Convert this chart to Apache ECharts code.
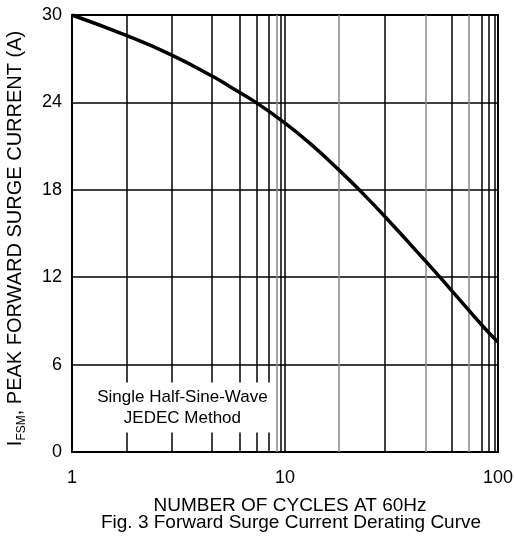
<!DOCTYPE html>
<html>
<head>
<meta charset="utf-8">
<script src="https://cdn.jsdelivr.net/npm/echarts@6/dist/echarts.min.js"></script>
<style>html,body{margin:0;padding:0;background:#fff}#c{width:514px;height:539px}</style>
</head>
<body>
<div id="c"></div>
<script>
// Curve: number of cycles vs peak forward surge current (A)
const cycles  = [1, 1.81, 2.94, 4.61, 5.52, 7.3, 9.82, 13.1, 18.1, 23.3, 29.5, 45.4, 59.6, 85.3, 100];
const current = [30, 28.58, 27.25, 25.76, 25.08, 24.0, 22.67, 21.19, 19.3, 17.72, 16.15, 13.15, 11.2, 8.6, 7.55];
// Vertical grid lines of the printed log paper
const gridBlack = [1.8, 2.95, 4.55, 6.1, 7.35, 8.35, 9.6, 10, 29.5, 60.8, 84.2, 90.8, 96.8];
const gridGray  = [9.15, 17.9, 45.9, 73.1];
const yTicks = [0, 6, 12, 18, 24, 30];
const xTicks = [1, 10, 100];
const noteLines = ['Single Half-Sine-Wave', 'JEDEC Method'];
const noteAt = [3.3, 3.05];

const FONT = '"Liberation Sans", Arial, sans-serif';
const chart = echarts.init(document.getElementById('c'));
chart.setOption({
  animation: false,
  backgroundColor: '#fff',
  textStyle: { fontFamily: FONT, color: '#000' },
  grid: { left: 72, right: 16, top: 15, bottom: 87, containLabel: false, outerBoundsMode: 'none',
    show: true, borderColor: '#000', borderWidth: 2, backgroundColor: 'transparent' },
  xAxis: {
    type: 'log', logBase: 10, min: 1, max: 100,
    axisLine: { show: false }, axisTick: { show: false },
    axisLabel: { fontSize: 18, color: '#000', fontFamily: FONT, margin: 17,
      formatter: v => (xTicks.indexOf(Math.round(v)) >= 0 ? String(Math.round(v)) : '') },
    splitLine: { show: false },
    name: 'NUMBER OF CYCLES AT 60Hz', nameLocation: 'middle', nameGap: 44,
    nameTextStyle: { fontSize: 19, color: '#000', fontFamily: FONT, padding: [0, 0, 0, 10] }
  },
  yAxis: {
    type: 'value', min: 0, max: 30, interval: 6,
    axisLine: { show: false }, axisTick: { show: false },
    axisLabel: { fontSize: 18, color: '#000', fontFamily: FONT, margin: 10 },
    splitLine: { show: true, lineStyle: { color: '#000', width: 1.5 } },
    name: '{i|I}{s|FSM}{n|, PEAK FORWARD SURGE CURRENT (A)}',
    nameLocation: 'middle', nameGap: 47, nameRotate: 90,
    nameTextStyle: {
      fontFamily: FONT, color: '#000', padding: [0, 10, 0, 0],
      rich: {
        i: { fontSize: 20, fontFamily: FONT, color: '#000', verticalAlign: 'bottom' },
        s: { fontSize: 12, fontFamily: FONT, color: '#000', verticalAlign: 'bottom', padding: [0, 0, -3, 0] },
        n: { fontSize: 20, fontFamily: FONT, color: '#000', verticalAlign: 'bottom' }
      }
    }
  },
  graphic: [{
    type: 'text', x: 291, y: 513,
    style: { text: 'Fig. 3 Forward Surge Current Derating Curve', font: '19px ' + FONT, fill: '#000', align: 'center' }
  }],
  series: [
    {
      type: 'line', data: [], silent: true,
      markLine: {
        silent: true, symbol: 'none', label: { show: false }, animation: false,
        lineStyle: { color: '#888', width: 1.5, type: 'solid' },
        data: gridGray.map(v => ({ xAxis: v }))
      }
    },
    {
      type: 'line', data: [], silent: true,
      markLine: {
        silent: true, symbol: 'none', label: { show: false }, animation: false,
        lineStyle: { color: '#000', width: 1.5, type: 'solid' },
        data: gridBlack.map(v => ({ xAxis: v }))
      }
    },
    {
      type: 'line', data: [], silent: true, z: 5,
      markPoint: {
        silent: true, symbol: 'rect', symbolSize: 0,
        data: [{ coord: noteAt }],
        label: {
          show: true, position: 'inside', formatter: noteLines.join('\n'),
          fontSize: 17, fontFamily: FONT, color: '#000', lineHeight: 21, align: 'center',
          backgroundColor: '#fff', padding: [4, 4, 4, 4]
        }
      }
    },
    {
      type: 'line', smooth: 0.5, symbol: 'none', z: 10,
      data: cycles.map((c, i) => [c, current[i]]),
      lineStyle: { color: '#000', width: 3.5 }
    }
  ]
});
</script>
</body>
</html>
